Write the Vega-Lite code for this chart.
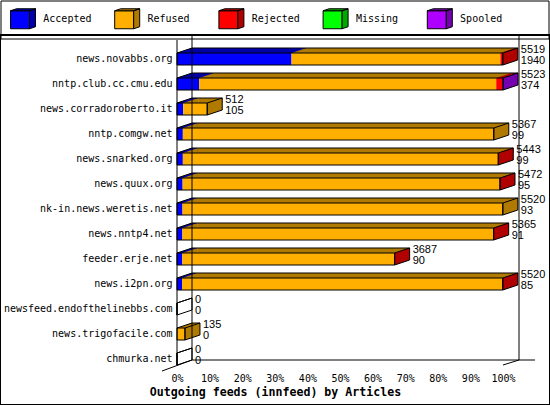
{
  "$schema": "https://vega.github.io/schema/vega-lite/v6.json",
  "width": 550,
  "height": 370,
  "autosize": {"type": "none"},
  "padding": {"left": 0, "top": 35, "right": 0, "bottom": 0},
  "background": "white",
  "config": {
    "font": "DejaVu Sans Mono",
    "view": {"stroke": "black", "strokeWidth": 2},
    "axisX": {"offset": -39, "domain": false, "ticks": false, "tickSize": 0, "grid": false, "tickCount": 10, "labelExpr": "format(datum.value, '.0%')", "labelPadding": 12, "labelBaseline": "middle", "labelFont": "DejaVu Sans Mono", "labelFontSize": 10, "labelColor": "black", "labelFlush": false, "labelOverlap": false, "titleFont": "DejaVu Sans Mono", "titleFontWeight": "bold", "titleFontSize": 11.6, "titleColor": "black", "titleX": 275, "titleY": 26, "titleAlign": "center", "titleBaseline": "middle"},
    "axisY": {"offset": -177, "domain": false, "ticks": false, "tickSize": 0, "grid": false, "labelPadding": 5, "labelFont": "DejaVu Sans Mono", "labelFontSize": 10, "labelColor": "black", "labelLimit": 300}
  },
  "data": {"values": [
    {"server": "news.novabbs.org", "Accepted": 1940, "Refused": 3539, "Rejected": 40, "Missing": 0, "Spooled": 0},
    {"server": "nntp.club.cc.cmu.edu", "Accepted": 374, "Refused": 5034, "Rejected": 105, "Missing": 0, "Spooled": 10},
    {"server": "news.corradoroberto.it", "Accepted": 105, "Refused": 407, "Rejected": 0, "Missing": 0, "Spooled": 0},
    {"server": "nntp.comgw.net", "Accepted": 99, "Refused": 5268, "Rejected": 0, "Missing": 0, "Spooled": 0},
    {"server": "news.snarked.org", "Accepted": 99, "Refused": 5339, "Rejected": 5, "Missing": 0, "Spooled": 0},
    {"server": "news.quux.org", "Accepted": 95, "Refused": 5372, "Rejected": 5, "Missing": 0, "Spooled": 0},
    {"server": "nk-in.news.weretis.net", "Accepted": 93, "Refused": 5427, "Rejected": 0, "Missing": 0, "Spooled": 0},
    {"server": "news.nntp4.net", "Accepted": 91, "Refused": 5269, "Rejected": 5, "Missing": 0, "Spooled": 0},
    {"server": "feeder.erje.net", "Accepted": 90, "Refused": 3592, "Rejected": 5, "Missing": 0, "Spooled": 0},
    {"server": "news.i2pn.org", "Accepted": 85, "Refused": 5425, "Rejected": 10, "Missing": 0, "Spooled": 0},
    {"server": "newsfeed.endofthelinebbs.com", "Accepted": 0, "Refused": 0, "Rejected": 0, "Missing": 0, "Spooled": 0},
    {"server": "news.trigofacile.com", "Accepted": 0, "Refused": 135, "Rejected": 0, "Missing": 0, "Spooled": 0},
    {"server": "chmurka.net", "Accepted": 0, "Refused": 0, "Rejected": 0, "Missing": 0, "Spooled": 0}
  ]},
  "transform": [
    {"fold": ["Accepted", "Refused", "Rejected", "Missing", "Spooled"], "as": ["status", "articles"]},
    {"calculate": "indexof(['Accepted','Refused','Rejected','Missing','Spooled'], datum.status)", "as": "order"},
    {"stack": "articles", "groupby": ["server"], "sort": [{"field": "order"}], "as": ["s0", "s1"]},
    {"joinaggregate": [{"op": "sum", "field": "articles", "as": "total"}], "groupby": ["server"]},
    {"joinaggregate": [{"op": "max", "field": "total", "as": "maxTotal"}]},
    {"calculate": "datum.s0 / datum.maxTotal", "as": "x0"},
    {"calculate": "datum.s1 / datum.maxTotal", "as": "x1"},
    {"calculate": "datum.total / datum.maxTotal", "as": "xt"}
  ],
  "resolve": {"scale": {"fill": "independent"}},
  "layer": [
    {
      "transform": [{"filter": "datum.articles > 0"}],
      "mark": {"type": "bar", "height": 12},
      "encoding": {
        "y": {"field": "server", "type": "nominal", "title": null,
          "scale": {"type": "band", "domain": ["news.novabbs.org", "nntp.club.cc.cmu.edu", "news.corradoroberto.it", "nntp.comgw.net", "news.snarked.org", "news.quux.org", "nk-in.news.weretis.net", "news.nntp4.net", "feeder.erje.net", "news.i2pn.org", "newsfeed.endofthelinebbs.com", "news.trigofacile.com", "chmurka.net"], "paddingInner": 0.2, "paddingOuter": 1, "align": 0.28}},
        "x": {"field": "x0", "type": "quantitative", "title": "Outgoing feeds (innfeed) by Articles",
          "scale": {"domain": [0, 1], "range": [177, 503], "nice": false, "zero": true}},
        "x2": {"field": "x1"},
        "fill": {"field": "status", "type": "nominal",
          "scale": {"domain": ["Accepted", "Refused", "Rejected", "Missing", "Spooled"], "range": ["#0000ff", "#ffaf00", "#ff0000", "#00ff00", "#af00ff"]},
          "legend": {"orient": "none", "legendX": 0.5, "legendY": -34.5, "direction": "horizontal", "columns": 5, "title": null, "padding": 7.5, "symbolType": "M-0.8,-0.8H1.1V1H-0.8Z", "symbolSize": 400, "symbolStrokeColor": "black", "symbolStrokeWidth": 1, "symbolOpacity": 1, "labelFont": "DejaVu Sans Mono", "labelFontSize": 10, "labelColor": "black", "labelOffset": 14.3, "columnPadding": 20.2, "rowPadding": 0, "gridAlign": "all"}}
      }
    },
    {
      "transform": [{"filter": "datum.articles > 0"}],
      "mark": {"type": "bar", "height": 5, "yOffset": -8.5, "xOffset": 15, "x2Offset": 15},
      "encoding": {
        "y": {"field": "server", "type": "nominal", "title": null},
        "x": {"field": "x0", "type": "quantitative", "title": "Outgoing feeds (innfeed) by Articles"},
        "x2": {"field": "x1"},
        "fill": {"field": "status", "type": "nominal",
          "scale": {"domain": ["Accepted", "Refused", "Rejected", "Missing", "Spooled"], "range": ["#0000a8", "#b07a00", "#b00000", "#00a800", "#7400b0"]},
          "legend": {"orient": "none", "legendX": 0.5, "legendY": -34.5, "direction": "horizontal", "columns": 5, "title": "⠀", "titleOrient": "right", "titlePadding": 32, "titleFontSize": 10, "titleFont": "DejaVu Sans Mono", "padding": 7.5, "strokeColor": "black", "symbolType": "M1.1,-0.8L1.7,-1L1.7,0.8L1.1,1Z M-0.8,-0.8L-0.2,-1L1.7,-1L1.1,-0.8Z", "symbolSize": 400, "symbolStrokeColor": "black", "symbolStrokeWidth": 1, "symbolOpacity": 1, "labelFont": "DejaVu Sans Mono", "labelFontSize": 10, "labelColor": "black", "labelOpacity": 0, "labelOffset": 14.3, "columnPadding": 20.2, "rowPadding": 0, "gridAlign": "all"}}
      }
    },
    {
      "transform": [{"filter": "datum.articles > 0"}],
      "mark": {"type": "point", "shape": "M0,-6L15,-11L15,-6Z", "size": 4, "filled": true, "opacity": 1, "strokeWidth": 0},
      "encoding": {
        "y": {"field": "server", "type": "nominal", "title": null},
        "x": {"field": "x0", "type": "quantitative", "title": "Outgoing feeds (innfeed) by Articles"},
        "fill": {"field": "status", "type": "nominal",
          "scale": {"domain": ["Accepted", "Refused", "Rejected", "Missing", "Spooled"], "range": ["#0000a8", "#b07a00", "#b00000", "#00a800", "#7400b0"]},
          "legend": null}
      }
    },
    {
      "transform": [
        {"calculate": "datum.articles > 0 ? datum.order : -1", "as": "lo"},
        {"aggregate": [{"op": "max", "field": "lo", "as": "last"}, {"op": "max", "field": "xt", "as": "xt"}], "groupby": ["server"]}
      ],
      "mark": {"type": "point", "shape": "M0,-6L15,-11L15,1L0,6Z", "size": 4, "filled": true, "opacity": 1, "stroke": "black", "strokeWidth": 1},
      "encoding": {
        "y": {"field": "server", "type": "nominal", "title": null},
        "x": {"field": "xt", "type": "quantitative", "title": "Outgoing feeds (innfeed) by Articles"},
        "fill": {"field": "last", "type": "ordinal",
          "scale": {"domain": [-1, 0, 1, 2, 3, 4], "range": ["#ffffff", "#0000a8", "#b07a00", "#b00000", "#00a800", "#7400b0"]},
          "legend": null}
      }
    },
    {
      "transform": [{"filter": "datum.status == 'Accepted'"}],
      "mark": {"type": "bar", "height": 12, "fillOpacity": 0, "stroke": "black", "strokeWidth": 1},
      "encoding": {
        "y": {"field": "server", "type": "nominal", "title": null},
        "x": {"field": "x0", "type": "quantitative", "title": "Outgoing feeds (innfeed) by Articles"},
        "x2": {"field": "xt"}
      }
    },
    {
      "transform": [{"filter": "datum.status == 'Accepted' && datum.total > 0"}],
      "mark": {"type": "rule", "color": "black", "strokeWidth": 1, "xOffset": 15, "x2Offset": 15, "yOffset": -11},
      "encoding": {
        "y": {"field": "server", "type": "nominal", "title": null},
        "x": {"field": "x0", "type": "quantitative", "title": "Outgoing feeds (innfeed) by Articles"},
        "x2": {"field": "xt"}
      }
    },
    {
      "transform": [{"filter": "datum.status == 'Accepted'"}],
      "mark": {"type": "point", "shape": "M0,-6L15,-11", "size": 4, "filled": false, "opacity": 1, "stroke": "black", "strokeWidth": 1},
      "encoding": {
        "y": {"field": "server", "type": "nominal", "title": null},
        "x": {"field": "x0", "type": "quantitative", "title": "Outgoing feeds (innfeed) by Articles"}
      }
    },
    {
      "transform": [{"filter": "datum.status == 'Accepted'"}],
      "mark": {"type": "text", "align": "left", "baseline": "middle", "xOffset": 18, "yOffset": -9.5, "font": "Liberation Sans", "fontSize": 11, "fill": "black"},
      "encoding": {
        "y": {"field": "server", "type": "nominal", "title": null},
        "x": {"field": "xt", "type": "quantitative", "title": "Outgoing feeds (innfeed) by Articles"},
        "text": {"field": "total", "type": "quantitative"}
      }
    },
    {
      "transform": [{"filter": "datum.status == 'Accepted'"}],
      "mark": {"type": "text", "align": "left", "baseline": "middle", "xOffset": 18, "yOffset": 1.5, "font": "Liberation Sans", "fontSize": 11, "fill": "black"},
      "encoding": {
        "y": {"field": "server", "type": "nominal", "title": null},
        "x": {"field": "xt", "type": "quantitative", "title": "Outgoing feeds (innfeed) by Articles"},
        "text": {"field": "articles", "type": "quantitative"}
      }
    },
    {
      "data": {"values": [{}]},
      "mark": {"type": "rule", "color": "black", "strokeWidth": 1, "xOffset": 15, "yOffset": -24, "y2Offset": 1},
      "encoding": {
        "x": {"datum": 0, "type": "quantitative", "title": "Outgoing feeds (innfeed) by Articles"},
        "y": {"datum": "news.novabbs.org", "type": "nominal", "title": null},
        "y2": {"datum": "chmurka.net"}
      }
    },
    {
      "data": {"values": [{}]},
      "mark": {"type": "rule", "color": "black", "strokeWidth": 1, "xOffset": 16, "yOffset": -24, "y2Offset": 1},
      "encoding": {
        "x": {"datum": 1, "type": "quantitative", "title": "Outgoing feeds (innfeed) by Articles"},
        "y": {"datum": "news.novabbs.org", "type": "nominal", "title": null},
        "y2": {"datum": "chmurka.net"}
      }
    },
    {
      "data": {"values": [{}]},
      "mark": {"type": "rule", "color": "black", "strokeWidth": 1, "xOffset": 15, "x2Offset": 32, "yOffset": 1},
      "encoding": {
        "x": {"datum": 0, "type": "quantitative", "title": "Outgoing feeds (innfeed) by Articles"},
        "x2": {"datum": 1},
        "y": {"datum": "chmurka.net", "type": "nominal", "title": null}
      }
    },
    {
      "data": {"values": [{}]},
      "mark": {"type": "rule", "color": "black", "strokeWidth": 1, "yOffset": -19, "y2Offset": 6},
      "encoding": {
        "x": {"datum": 0, "type": "quantitative", "title": "Outgoing feeds (innfeed) by Articles"},
        "y": {"datum": "news.novabbs.org", "type": "nominal", "title": null},
        "y2": {"datum": "chmurka.net"}
      }
    },
    {
      "data": {"values": [{}]},
      "mark": {"type": "point", "shape": "M-15,12L15,1", "size": 4, "filled": false, "opacity": 1, "stroke": "black", "strokeWidth": 1},
      "encoding": {
        "x": {"datum": 0, "type": "quantitative", "title": "Outgoing feeds (innfeed) by Articles"},
        "y": {"datum": "chmurka.net", "type": "nominal", "title": null}
      }
    },
    {
      "data": {"values": [{}]},
      "mark": {"type": "point", "shape": "M0,6L16,1", "size": 4, "filled": false, "opacity": 1, "stroke": "black", "strokeWidth": 1},
      "encoding": {
        "x": {"datum": 1, "type": "quantitative", "title": "Outgoing feeds (innfeed) by Articles"},
        "y": {"datum": "chmurka.net", "type": "nominal", "title": null}
      }
    }
  ]
}
